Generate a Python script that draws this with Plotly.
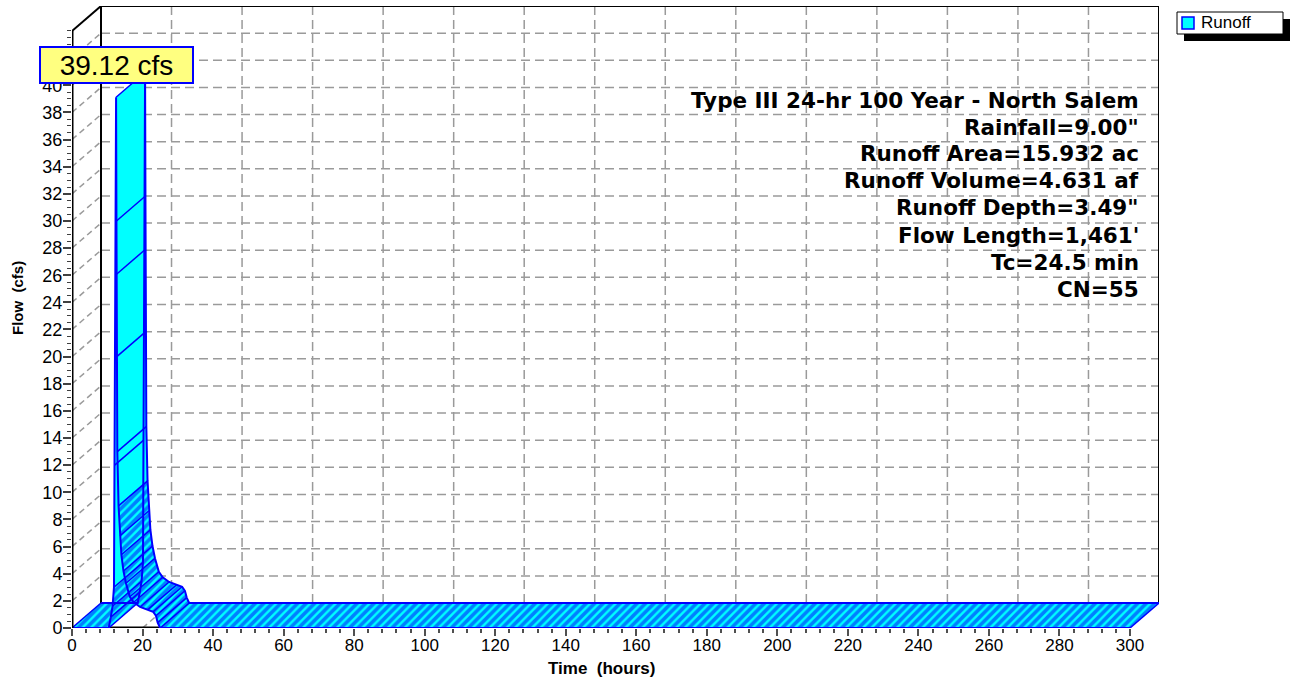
import plotly.graph_objects as go

# ---------------- data ----------------
time_hr = [0, 10.4, 11.0, 11.5, 11.9, 12.1, 12.3, 12.5, 12.6, 12.7, 12.85, 13.2,
           13.6, 14.0, 14.6, 15.3, 16.4, 17.5, 19.3, 21.5, 23.0, 23.8, 24.3, 25.0, 300]
flow_cfs = [0, 0, 0.8, 1.6, 3.0, 12.0, 26.0, 39.12, 30.0, 20.0, 13.0, 9.0,
            6.8, 5.4, 4.2, 3.3, 2.3, 1.9, 1.55, 1.35, 1.2, 0.9, 0.4, 0.0, 0.0]
series_name = "Runoff"
x_ticks = list(range(0, 301, 20))
x_minor = list(range(0, 301, 4))
y_ticks = list(range(0, 45, 2))
y_ticktext = [str(v) if v <= 40 else "" for v in y_ticks]
y_minor = [v / 2 for v in range(0, 89)]
info_lines = ["Type III 24-hr 100 Year - North Salem", 'Rainfall=9.00"',
              "Runoff Area=15.932 ac", "Runoff Volume=4.631 af",
              'Runoff Depth=3.49"', "Flow Length=1,461'", "Tc=24.5 min", "CN=55"]

# ---------------- geometry / style ----------------
W, H = 1294, 686
ML, MR, MT, MB = 72, 135, 6, 58
PW, PH = W - ML - MR, H - MT - MB
XMAX, YMAX = 300, 44
XPX = 3.5267          # px per hour on the front axis
YPX = 13.575          # px per cfs on the front axis
DX = 29 / XPX         # 3-D depth offset in axis units
DY = 25 / YPX
FONT = "Liberation Sans, Arial, sans-serif"
CYAN, BLUE = "#00FFFF", "#0000FF"
GRID = "#9A9A9A"


def px(xp):
    return (xp - ML) / PW


def py(yp):
    return (H - MB - yp) / PH


fig = go.Figure()

# ribbon faces
n = len(time_hr)
for i in range(n - 1):
    t0, t1 = time_hr[i], time_hr[i + 1]
    q0, q1 = flow_cfs[i], flow_cfs[i + 1]
    xs = [t0, t1, t1 + DX, t0 + DX, t0]
    ys = [q0, q1, q1 + DY, q0 + DY, q0]
    dense = max(q0, q1) <= 10
    kw = dict(x=xs, y=ys, mode="lines", fill="toself", line=dict(width=0, color=BLUE),
              hoverinfo="skip", showlegend=False, fillcolor=CYAN)
    if dense:
        kw["fillpattern"] = dict(shape="/", size=6, solidity=0.6, fgcolor=BLUE, bgcolor=CYAN)
    fig.add_trace(go.Scatter(**kw))

# back edge of ribbon
fig.add_trace(go.Scatter(x=[t + DX for t in time_hr], y=[q + DY for q in flow_cfs],
                         mode="lines", line=dict(color=BLUE, width=2),
                         hoverinfo="skip", showlegend=False))
# depth edges at each point
ex, ey = [], []
for t, q in zip(time_hr, flow_cfs):
    ex += [t, t + DX, None]
    ey += [q, q + DY, None]
fig.add_trace(go.Scatter(x=ex, y=ey, mode="lines", line=dict(color=BLUE, width=1.5),
                         hoverinfo="skip", showlegend=False))
# front edge
fig.add_trace(go.Scatter(x=time_hr, y=flow_cfs, mode="lines", name=series_name,
                         line=dict(color=BLUE, width=2), showlegend=False))

shapes = []
dash = "9px,5px"
# back wall grid
for t in x_ticks[1:-1]:
    shapes.append(dict(type="line", xref="x", yref="y", x0=t + DX, x1=t + DX, y0=DY, y1=YMAX + DY,
                       line=dict(color=GRID, width=1.5, dash=dash), layer="below"))
for q in y_ticks[1:-1]:
    shapes.append(dict(type="line", xref="x", yref="y", x0=DX, x1=XMAX + DX, y0=q + DY, y1=q + DY,
                       line=dict(color=GRID, width=1.5, dash=dash), layer="below"))
    # side wall diagonals
    shapes.append(dict(type="line", xref="x", yref="y", x0=0, x1=DX, y0=q, y1=q + DY,
                       line=dict(color=GRID, width=1.5, dash="6px,4px"), layer="below"))
for t in x_ticks[1:-1]:
    shapes.append(dict(type="line", xref="x", yref="y", x0=t, x1=t + DX, y0=0, y1=DY,
                       line=dict(color=GRID, width=1.5, dash="6px,4px"), layer="below"))
# frame
blk = dict(color="black", width=2)
shapes += [
    dict(type="line", xref="x", yref="y", x0=DX, x1=DX, y0=DY, y1=YMAX + DY, line=blk, layer="below"),
    dict(type="line", xref="x", yref="y", x0=DX, x1=XMAX + DX, y0=YMAX + DY, y1=YMAX + DY, line=blk, layer="below"),
    dict(type="line", xref="x", yref="y", x0=XMAX + DX, x1=XMAX + DX, y0=DY, y1=YMAX + DY, line=blk, layer="below"),
    dict(type="line", xref="x", yref="y", x0=0, x1=DX, y0=YMAX, y1=YMAX + DY, line=blk, layer="below"),
    dict(type="line", xref="x", yref="y", x0=0, x1=XMAX, y0=0, y1=0, line=dict(color="black", width=3), layer="below"),
    dict(type="line", xref="x", yref="y", x0=0, x1=0, y0=0, y1=YMAX, line=dict(color="black", width=3), layer="above"),
]
# legend (manual, with shadow)
lx0, lx1, ly0, ly1 = 1177, 1283, 12, 34
shapes += [
    dict(type="rect", xref="paper", yref="paper", x0=px(lx0 + 7), x1=px(lx1 + 7), y0=py(ly1 + 7), y1=py(ly0 + 7),
         fillcolor="black", line=dict(width=0)),
    dict(type="rect", xref="paper", yref="paper", x0=px(lx0), x1=px(lx1), y0=py(ly1), y1=py(ly0),
         fillcolor="white", line=dict(color="black", width=1)),
    dict(type="rect", xref="paper", yref="paper", x0=px(1182), x1=px(1194), y0=py(29), y1=py(17),
         fillcolor=CYAN, line=dict(color=BLUE, width=1.5)),
]

ann = []
ann.append(dict(text=series_name, xref="paper", yref="paper", x=px(1199), y=py(23), xanchor="left",
                yanchor="middle", showarrow=False, font=dict(family=FONT, size=17, color="black")))
for k, line in enumerate(info_lines):
    ann.append(dict(text=line, xref="paper", yref="paper", x=px(1141), y=py(100 + 27 * k),
                    xanchor="right", yanchor="middle", showarrow=False,
                    font=dict(family="DejaVu Sans, sans-serif", size=21.5, color="black", weight="bold")))
peak = max(flow_cfs)
ann.append(dict(text=f"{peak:.2f} cfs", xref="paper", yref="paper", x=px(116.5), y=py(65),
                xanchor="center", yanchor="middle", showarrow=False, bgcolor="#FFFF80",
                bordercolor=BLUE, borderwidth=2, borderpad=2, width=147, height=30,
                font=dict(family=FONT, size=28, color="black")))
ann.append(dict(text="Time\u00a0 (hours)", xref="x", yref="paper", x=150, y=py(669),
                xanchor="center", yanchor="middle", showarrow=False,
                font=dict(family=FONT, size=17, color="black", weight="bold")))
ann.append(dict(text="Flow\u00a0 (cfs)", xref="paper", yref="paper", x=px(17), y=py(298),
                xanchor="center", yanchor="middle", showarrow=False, textangle=-90,
                font=dict(family=FONT, size=15, color="black", weight="bold")))

fig.update_layout(
    width=W, height=H, margin=dict(l=ML, r=MR, t=MT, b=MB, autoexpand=False),
    paper_bgcolor="white", plot_bgcolor="white", showlegend=False,
    shapes=shapes, annotations=ann,
    xaxis=dict(range=[0, XMAX + DX], showgrid=False, zeroline=False, showline=False,
               tickmode="array", tickvals=x_ticks, ticks="outside", ticklen=7, tickwidth=1.5,
               tickcolor="#505050", tickfont=dict(family=FONT, size=17, color="black"),
               ticklabelstandoff=-5,
               minor=dict(tickmode="array", tickvals=x_minor, ticks="outside", ticklen=4,
                          tickwidth=1.5, tickcolor="#505050", showgrid=False),
               automargin=False, fixedrange=True),
    yaxis=dict(range=[0, YMAX + DY], showgrid=False, zeroline=False, showline=False,
               tickmode="array", tickvals=y_ticks, ticktext=y_ticktext, ticks="outside",
               ticklen=8, tickwidth=1.5, tickcolor="#404040",
               tickfont=dict(family=FONT, size=18, color="black"),
               ticklabelstandoff=-3,
               minor=dict(tickmode="array", tickvals=y_minor, ticks="outside", ticklen=4,
                          tickwidth=1, tickcolor="#404040", showgrid=False),
               automargin=False, fixedrange=True),
)

fig.write_html("out.html", config={"displayModeBar": False},
               post_script="document.body.style.margin='0';")
